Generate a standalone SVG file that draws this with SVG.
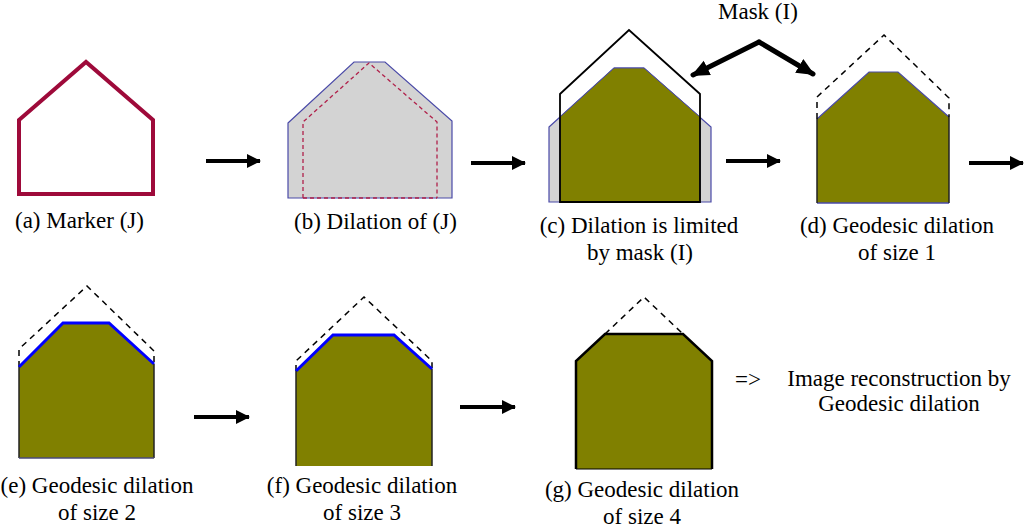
<svg xmlns="http://www.w3.org/2000/svg" width="1024" height="529" viewBox="0 0 1024 529">
<style>
text{font-family:"Liberation Serif","Times New Roman",serif;font-size:23px;fill:#000}
.c{text-anchor:middle}
.olive{fill:#808000}
.gray{fill:#d3d3d3;stroke:#4a4aa8;stroke-width:1.2}
.dash{fill:none;stroke:#000;stroke-width:1.5;stroke-dasharray:6,5}
.arr{stroke:#000;stroke-width:4;fill:none}
.marr{stroke:#000;stroke-width:5;fill:none;stroke-linecap:round}
</style>
<defs>
<marker id="ah" markerUnits="userSpaceOnUse" markerWidth="14" markerHeight="14" refX="13" refY="7" orient="auto">
<path d="M0,0 L14,7 L0,14 Z" fill="#000"/>
</marker>
<marker id="ahm" markerUnits="userSpaceOnUse" markerWidth="18" markerHeight="18" refX="16" refY="9" orient="auto">
<path d="M0,1 L18,9 L0,17 Z" fill="#000"/>
</marker>
</defs>

<g id="node-a">
<polygon points="19,120 86,62 153,120 153,194 19,194" fill="#fff" stroke="#9e0a3a" stroke-width="4"/>
<text x="15" y="228">(a) Marker (J)</text>
</g>

<g id="node-b">
<polygon class="gray" points="288,123 354,62 385,62 452,121 452,198 288,198"/>
<polyline points="303,198 303,122 369,63 437,122 437,198" fill="none" stroke="#b0204a" stroke-width="1.3" stroke-dasharray="4,3"/>
<line x1="303" y1="198" x2="437" y2="198" stroke="#b0204a" stroke-width="1.3" stroke-dasharray="4,3"/>
<text x="294" y="229">(b) Dilation of (J)</text>
</g>

<g id="node-c">
<polygon class="gray" points="549,127 614,68 644,68 711,127 711,202 549,202"/>
<polygon class="olive" points="560,202 560,117 614,68 644,68 700,117 700,202" stroke="#4a4aa8" stroke-width="1"/>
<polygon points="560,94 629,30 700,94 700,202 560,202" fill="none" stroke="#000" stroke-width="1.8"/>
<text class="c" x="639" y="233">(c) Dilation is limited</text>
<text class="c" x="640" y="260">by mask (I)</text>
</g>

<g id="node-mask">
<text x="718" y="19">Mask (I)</text>
</g>

<g id="node-d">
<polygon class="olive" points="817,203 817,119 869,72 898,72 949,117 949,203"/>
<polyline points="817,119 869,72 898,72 949,117" fill="none" stroke="#4a4aa8" stroke-width="1.2"/>
<line x1="817" y1="203" x2="949" y2="203" stroke="#4a4aa8" stroke-width="1.5"/>
<polyline points="817,119 817,203" fill="none" stroke="#222" stroke-width="1.5"/>
<polyline points="949,117 949,203" fill="none" stroke="#222" stroke-width="1.5"/>
<polyline class="dash" points="817,119 817,97 884,35 949,98 949,117"/>
<text class="c" x="897" y="233">(d) Geodesic dilation</text>
<text class="c" x="897" y="260">of size 1</text>
</g>

<g id="node-e">
<polygon class="olive" points="19,458 19,367 63,323 109,323 154,364 154,458"/>
<polyline class="dash" points="19,367 19,349 87,286 154,351 154,364"/>
<polyline points="19,367 63,323 109,323 154,364" fill="none" stroke="#0000ff" stroke-width="3"/>
<line x1="19" y1="367" x2="19" y2="458" stroke="#222" stroke-width="1.5"/>
<line x1="154" y1="364" x2="154" y2="458" stroke="#222" stroke-width="1.5"/>
<line x1="19" y1="458" x2="154" y2="458" stroke="#4a4a7a" stroke-width="1.5"/>
<text class="c" x="97" y="493">(e) Geodesic dilation</text>
<text class="c" x="97" y="520">of size 2</text>
</g>

<g id="node-f">
<polygon class="olive" points="296,466 296,371 333,335 394,335 432,369 432,466"/>
<polyline class="dash" points="296,371 296,361 364,297 432,361 432,369"/>
<polyline points="296,371 333,335 394,335 432,369" fill="none" stroke="#0000ff" stroke-width="3"/>
<line x1="296" y1="371" x2="296" y2="466" stroke="#222" stroke-width="1.5"/>
<line x1="432" y1="369" x2="432" y2="466" stroke="#222" stroke-width="1.5"/>
<text class="c" x="362" y="493">(f) Geodesic dilation</text>
<text class="c" x="362" y="520">of size 3</text>
</g>

<g id="node-g">
<polygon class="olive" points="576,469 576,361 605,334 683,334 712,361 712,469" stroke="#000" stroke-width="1"/>
<polyline class="dash" points="605,334 644,297 683,334"/>
<polyline points="576,469 576,361 605,334 683,334 712,361 712,469" fill="none" stroke="#000" stroke-width="2.5"/>
<text class="c" x="642" y="497">(g) Geodesic dilation</text>
<text class="c" x="642" y="524">of size 4</text>
</g>

<g id="node-result">
<text x="735" y="387">=&gt;</text>
<text class="c" x="899" y="386">Image reconstruction by</text>
<text class="c" x="899" y="411">Geodesic dilation</text>
</g>

<g id="connectors">
<line class="arr" x1="206" y1="161" x2="260" y2="161" marker-end="url(#ah)"/>
<line class="arr" x1="471" y1="163" x2="525" y2="163" marker-end="url(#ah)"/>
<line class="arr" x1="726" y1="161" x2="780" y2="161" marker-end="url(#ah)"/>
<line class="arr" x1="969" y1="163" x2="1023" y2="163" marker-end="url(#ah)"/>
<line class="arr" x1="194" y1="417" x2="249" y2="417" marker-end="url(#ah)"/>
<line class="arr" x1="460" y1="407" x2="515" y2="407" marker-end="url(#ah)"/>
<line x1="759" y1="42" x2="693" y2="75" class="marr" marker-end="url(#ahm)"/>
<line x1="759" y1="42" x2="813" y2="74" class="marr" marker-end="url(#ahm)"/>
</g>
</svg>
